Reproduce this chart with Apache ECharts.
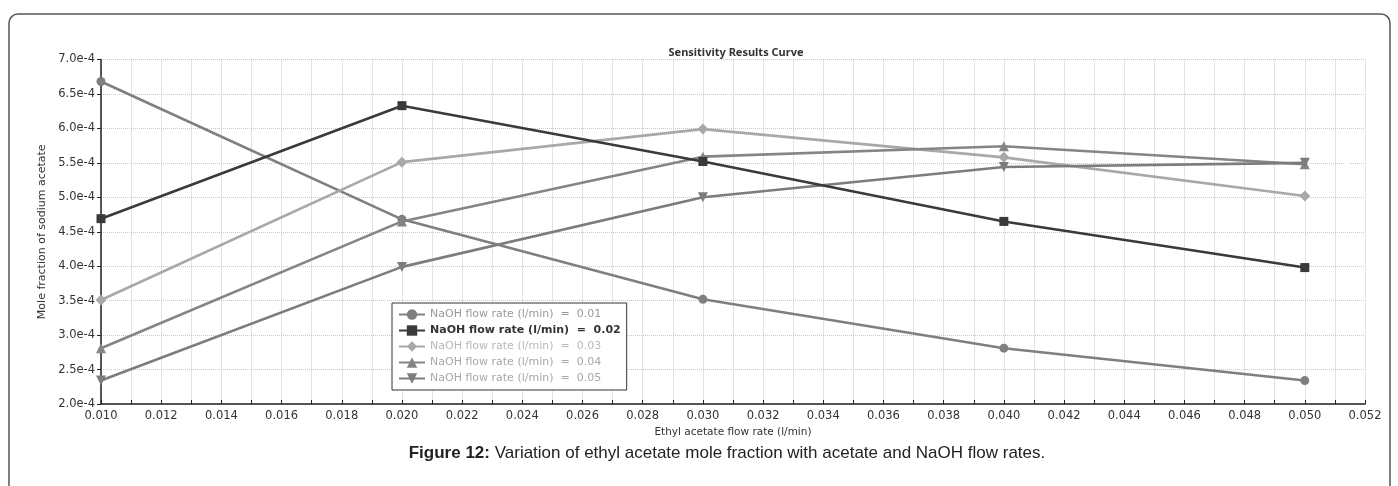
<!DOCTYPE html>
<html>
<head>
<meta charset="utf-8">
<script src="https://cdn.jsdelivr.net/npm/echarts@6/dist/echarts.min.js"></script>
<style>html,body{margin:0;padding:0;background:#fff;}#c{width:1398px;height:486px;}</style>
</head>
<body>
<div id="c"></div>
<script>
var xValues = [0.010, 0.020, 0.030, 0.040, 0.050];
var seriesNames = [
  'NaOH flow rate (l/min)  =  0.01',
  'NaOH flow rate (l/min)  =  0.02',
  'NaOH flow rate (l/min)  =  0.03',
  'NaOH flow rate (l/min)  =  0.04',
  'NaOH flow rate (l/min)  =  0.05'
];
var naoh001 = [6.68e-4, 4.68e-4, 3.52e-4, 2.81e-4, 2.34e-4];
var naoh002 = [4.69e-4, 6.33e-4, 5.52e-4, 4.65e-4, 3.98e-4];
var naoh003 = [3.51e-4, 5.51e-4, 5.99e-4, 5.58e-4, 5.02e-4];
var naoh004 = [2.81e-4, 4.65e-4, 5.59e-4, 5.74e-4, 5.48e-4];
var naoh005 = [2.34e-4, 3.99e-4, 5.00e-4, 5.44e-4, 5.50e-4];
var strayPoint = [[0.0514, 5.44e-4]];

var seriesValues = [naoh001, naoh002, naoh003, naoh004, naoh005];
var symbols = ['circle', 'rect', 'diamond', 'triangle', 'path://M0,0 L10,0 L5,9 Z'];
var symbolSizes = [9, 9, 11, 10, 10];
var colors = ['#7f7f7f', '#3a3a3a', '#a8a8a8', '#858585', '#7c7c7c'];
var legendTextColors = ['#999999', '#333333', '#b8b8b8', '#a8a8a8', '#a8a8a8'];

function pairs(vals) {
  return xValues.map(function (x, i) { return [x, vals[i]]; });
}

var series = seriesValues.map(function (vals, i) {
  return {
    name: seriesNames[i],
    type: 'line',
    data: pairs(vals),
    symbol: symbols[i],
    symbolSize: symbolSizes[i],
    showAllSymbol: true,
    lineStyle: { color: colors[i], width: 2.6 },
    itemStyle: { color: colors[i] },
    z: i === 1 ? 5 : 3
  };
});
series.push({
  name: 'stray',
  type: 'scatter',
  data: strayPoint,
  symbol: 'emptyCircle',
  symbolSize: 7,
  itemStyle: { color: '#fff', borderColor: '#666', borderWidth: 2 }
});

var chart = echarts.init(document.getElementById('c'));
chart.setOption({
  animation: false,
  backgroundColor: '#fff',
  title: [
    {
      text: 'Sensitivity Results Curve',
      left: 731, top: 42, textAlign: 'center',
      textStyle: { fontFamily: 'Noto Sans', fontWeight: 'bold', fontSize: 11, color: '#333' }
    },
    {
      text: '{b|Figure 12:}{n| Variation of ethyl acetate mole fraction with acetate and NaOH flow rates.}',
      left: 722, top: 440, textAlign: 'center',
      textStyle: {
        fontWeight: 'normal',
        rich: {
          b: { fontFamily: 'Liberation Sans', fontWeight: 'bold', fontSize: 17, color: '#222' },
          n: { fontFamily: 'Liberation Sans', fontWeight: 'normal', fontSize: 17, color: '#222' }
        }
      }
    }
  ],
  graphic: [
    {
      type: 'rect', silent: true,
      shape: { x: 9, y: 14, width: 1381, height: 520, r: 9 },
      style: { fill: 'none', stroke: '#555', lineWidth: 1.5 }
    }
  ],
  legend: {
    orient: 'vertical',
    left: 392, top: 303,
    padding: [6, 6, 6, 6],
    itemGap: 5,
    itemWidth: 26,
    itemHeight: 13,
    backgroundColor: '#fff',
    borderColor: '#333',
    borderWidth: 1,
    data: seriesNames.map(function (n, i) {
      return {
        name: n,
        textStyle: {
          color: legendTextColors[i],
          fontWeight: i === 1 ? 'bold' : 'normal',
          fontFamily: 'DejaVu Sans',
          fontSize: 11
        }
      };
    })
  },
  grid: { left: 101, right: 33, top: 59.5, bottom: 82, containLabel: false },
  xAxis: {
    type: 'value',
    min: 0.010, max: 0.052, interval: 0.002,
    name: 'Ethyl acetate flow rate (l/min)',
    nameLocation: 'middle', nameGap: 22,
    nameTextStyle: { fontFamily: 'DejaVu Sans', fontSize: 10.5, color: '#333' },
    axisLine: { show: true, onZero: false, lineStyle: { color: '#222', width: 1.5 } },
    axisTick: { show: true, inside: true, length: 4, lineStyle: { color: '#222' } },
    minorTick: { show: true, splitNumber: 2, length: 4, lineStyle: { color: '#222' } },
    axisLabel: {
      fontFamily: 'DejaVu Sans', fontSize: 11.5, color: '#333', margin: 6,
      formatter: function (v) { return v.toFixed(3); }
    },
    splitLine: { show: true, lineStyle: { color: '#c8c8c8', type: 'dotted', width: 1 } },
    minorSplitLine: { show: true, lineStyle: { color: '#c8c8c8', type: 'dotted', width: 1 } }
  },
  yAxis: {
    type: 'value',
    min: 2.0e-4, max: 7.0e-4, interval: 0.5e-4,
    name: 'Mole fraction of sodium acetate',
    nameLocation: 'middle', nameGap: 50,
    nameTextStyle: { fontFamily: 'DejaVu Sans', fontSize: 11, color: '#333' },
    axisLine: { show: true, lineStyle: { color: '#222', width: 1.5 } },
    axisTick: { show: true, length: 4, lineStyle: { color: '#222' } },
    axisLabel: {
      fontFamily: 'DejaVu Sans', fontSize: 11.5, color: '#333', margin: 6,
      formatter: function (v) { return (Math.round(v * 1e5) / 10).toFixed(1) + 'e-4'; }
    },
    splitLine: { show: true, lineStyle: { color: '#c8c8c8', type: 'dotted', width: 1 } }
  },
  series: series
});
</script>
</body>
</html>
